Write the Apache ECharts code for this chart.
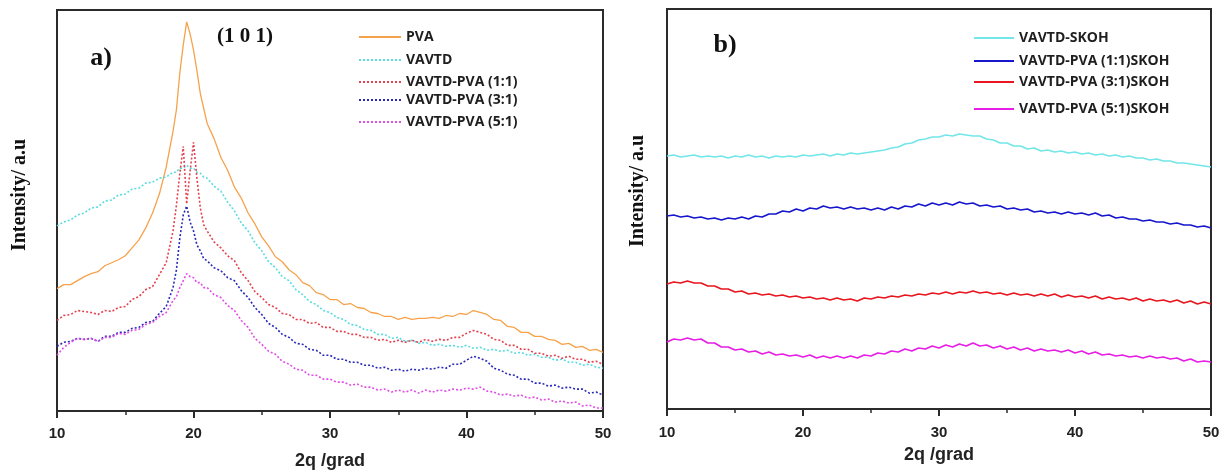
<!DOCTYPE html>
<html>
<head>
<meta charset="utf-8">
<script src="https://cdn.jsdelivr.net/npm/echarts@6/dist/echarts.min.js"></script>
<style>
  html, body { margin: 0; padding: 0; background: #fff; }
  #chart { width: 1232px; height: 475px; }
</style>
</head>
<body>
<div id="chart"></div>
<script>
// 2θ positions (degrees) for panel a), finer spacing around the (1 0 1) reflection
const thetaA = [
  10, 10.5, 11, 11.5, 12, 12.5, 13, 13.5, 14, 14.5, 15, 15.5, 16, 16.5, 17, 17.5, 18, 18.5,
  18.75, 19, 19.25, 19.5, 19.75, 20, 20.25, 20.5, 20.75, 21,
  21.5, 22, 22.5, 23, 23.5, 24, 24.5, 25, 25.5, 26, 26.5, 27, 27.5, 28, 28.5, 29, 29.5, 30,
  30.5, 31, 31.5, 32, 32.5, 33, 33.5, 34, 34.5, 35, 35.5, 36, 36.5, 37, 37.5, 38, 38.5, 39, 39.5, 40,
  40.5, 41, 41.5, 42, 42.5, 43, 43.5, 44, 44.5, 45, 45.5, 46, 46.5, 47, 47.5, 48, 48.5, 49, 49.5, 50
];

// Panel a) intensities (a.u., stacked offsets included)
const pva = [
  123, 127, 127, 131, 135, 138, 140, 146, 149, 152, 156, 164, 172, 184, 199, 218, 245, 281,
  303, 340, 368, 391, 379, 363, 342, 319, 304, 289,
  274, 255, 242, 225, 214, 199, 188, 175, 166, 155, 150, 142, 137, 129, 126, 119, 117, 112,
  112, 107, 108, 104, 103, 99, 98, 95, 95, 92, 94, 92, 93, 93, 94, 93, 96, 95, 98, 97,
  101, 99, 97, 92, 91, 85, 84, 79, 79, 75, 75, 72, 71, 67, 68, 64, 65, 61, 62, 59
];
const vavtd = [
  186, 190, 192, 197, 199, 204, 205, 211, 212, 217, 218, 223, 224, 229, 230, 234, 235, 240,
  240, 244, 244, 247, 244, 244, 240, 239, 235, 234,
  226, 221, 210, 201, 189, 181, 169, 161, 150, 144, 135, 131, 122, 117, 110, 107, 101, 99,
  94, 92, 87, 86, 82, 81, 77, 77, 73, 74, 70, 71, 68, 69, 66, 67, 65, 66, 64, 66,
  63, 64, 61, 62, 60, 61, 58, 59, 56, 57, 54, 54, 51, 52, 49, 49, 46, 47, 44, 43
];
const vavtdPva11 = [
  91, 96, 97, 101, 100, 99, 97, 101, 100, 104, 105, 112, 115, 122, 125, 137, 149, 181,
  207, 239, 266, 208, 241, 270, 234, 204, 187, 181,
  170, 164, 156, 151, 139, 131, 120, 114, 107, 104, 98, 97, 92, 92, 88, 89, 84, 84,
  80, 80, 77, 77, 74, 74, 71, 72, 69, 71, 69, 71, 69, 72, 70, 72, 71, 74, 74, 78,
  81, 79, 77, 72, 71, 66, 66, 62, 62, 58, 58, 55, 56, 53, 55, 52, 52, 49, 50, 47
];
const vavtdPva31 = [
  65, 69, 70, 73, 72, 73, 70, 75, 75, 79, 79, 83, 84, 89, 90, 98, 105, 124,
  142, 174, 197, 206, 190, 181, 167, 161, 153, 151,
  144, 141, 134, 131, 121, 114, 104, 97, 88, 84, 77, 74, 68, 67, 62, 61, 56, 56,
  52, 52, 49, 49, 46, 46, 43, 44, 41, 42, 40, 42, 41, 43, 42, 44, 43, 47, 47, 51,
  55, 53, 50, 43, 41, 37, 36, 32, 32, 28, 28, 25, 26, 23, 24, 22, 22, 18, 19, 16
];
const vavtdPva51 = [
  56, 64, 69, 73, 72, 73, 70, 74, 74, 78, 77, 81, 82, 87, 89, 95, 99, 111,
  115, 124, 131, 138, 135, 134, 129, 129, 124, 124,
  117, 114, 106, 101, 91, 84, 73, 67, 60, 57, 50, 47, 42, 41, 36, 36, 32, 32,
  29, 29, 26, 27, 24, 24, 21, 22, 19, 21, 19, 21, 18, 21, 19, 21, 20, 22, 21, 23,
  22, 24, 20, 19, 16, 17, 15, 16, 13, 14, 11, 12, 9, 10, 8, 9, 5, 6, 3, 3
];

// 2θ positions (degrees) for panel b)
const thetaB = [
  10, 10.5, 11, 11.5, 12, 12.5, 13, 13.5, 14, 14.5, 15, 15.5, 16, 16.5, 17, 17.5, 18, 18.5, 19, 19.5,
  20, 20.5, 21, 21.5, 22, 22.5, 23, 23.5, 24, 24.5, 25, 25.5, 26, 26.5, 27, 27.5, 28, 28.5, 29, 29.5,
  30, 30.5, 31, 31.5, 32, 32.5, 33, 33.5, 34, 34.5, 35, 35.5, 36, 36.5, 37, 37.5, 38, 38.5, 39, 39.5,
  40, 40.5, 41, 41.5, 42, 42.5, 43, 43.5, 44, 44.5, 45, 45.5, 46, 46.5, 47, 47.5, 48, 48.5, 49, 49.5,
  50
];

// Panel b) intensities (a.u., stacked offsets included)
const skoh = [
  253, 254, 252, 253, 254, 252, 253, 252, 253, 251, 253, 252, 254, 252, 253, 251, 253, 252, 253, 252,
  254, 253, 254, 255, 253, 255, 254, 256, 255, 256, 257, 258, 259, 261, 262, 265, 266, 269, 270, 272,
  272, 274, 273, 275, 274, 273, 273, 270, 269, 266, 266, 263, 263, 260, 261, 258, 259, 257, 258, 256,
  257, 255, 256, 254, 255, 253, 254, 252, 253, 251, 251, 249, 250, 248, 248, 246, 246, 245, 244, 243,
  242
];
const skohPva11 = [
  193, 194, 192, 193, 191, 192, 190, 191, 189, 191, 190, 192, 190, 193, 192, 195, 195, 198, 197, 200,
  198, 201, 200, 203, 201, 202, 200, 202, 200, 201, 199, 201, 199, 202, 200, 203, 202, 205, 203, 206,
  204, 206, 204, 207, 205, 206, 203, 204, 202, 203, 200, 201, 199, 200, 197, 198, 196, 197, 195, 197,
  195, 196, 194, 196, 193, 194, 191, 192, 190, 190, 188, 189, 187, 187, 185, 186, 184, 184, 182, 183,
  181
];
const skohPva31 = [
  125, 127, 126, 128, 126, 126, 123, 123, 120, 120, 117, 118, 115, 116, 114, 115, 113, 114, 112, 113,
  111, 112, 110, 111, 109, 111, 109, 110, 108, 111, 110, 112, 111, 113, 112, 114, 113, 115, 114, 116,
  115, 117, 115, 117, 116, 118, 116, 117, 115, 116, 114, 116, 114, 115, 113, 115, 113, 115, 112, 114,
  112, 113, 111, 113, 110, 112, 110, 111, 109, 111, 108, 110, 108, 109, 107, 109, 106, 108, 105, 107,
  105
];
const skohPva51 = [
  67, 70, 69, 71, 69, 70, 66, 66, 62, 62, 59, 60, 57, 58, 55, 57, 54, 55, 53, 54,
  52, 54, 51, 53, 51, 53, 51, 53, 51, 54, 53, 56, 55, 58, 57, 60, 58, 61, 60, 63,
  61, 64, 62, 65, 63, 66, 63, 64, 61, 63, 60, 62, 59, 61, 58, 60, 58, 59, 57, 59,
  56, 58, 55, 57, 54, 55, 53, 54, 52, 53, 51, 53, 51, 52, 50, 51, 48, 50, 47, 48,
  47
];

const namesA = ['PVA', 'VAVTD', 'VAVTD-PVA (1:1)', 'VAVTD-PVA (3:1)', 'VAVTD-PVA (5:1)'];
const namesB = ['VAVTD-SKOH', 'VAVTD-PVA (1:1)SKOH', 'VAVTD-PVA (3:1)SKOH', 'VAVTD-PVA (5:1)SKOH'];
const valuesA = [pva, vavtd, vavtdPva11, vavtdPva31, vavtdPva51];
const valuesB = [skoh, skohPva11, skohPva31, skohPva51];
const colorsA = ['#F6A24A', '#58DCE0', '#E2424E', '#2A2ABA', '#E04EE6'];
const colorsB = ['#72E6E8', '#1616CC', '#E8161E', '#E61EE6'];

const zip = (xs, ys) => xs.map((x, i) => [x, ys[i]]);

const frameColor = '#2b2b2b';
const tickFont = { fontFamily: 'Liberation Sans', fontWeight: 'bold', fontSize: 15, color: '#222' };

function xAxisFor(gridIndex, labelMargin, nameGap) {
  return {
    type: 'value', gridIndex, min: 10, max: 50, interval: 10,
    name: '2q /grad', nameLocation: 'middle', nameGap,
    nameTextStyle: { fontFamily: 'Liberation Sans', fontWeight: 'bold', fontSize: 18, color: '#222' },
    axisLine: { show: true, onZero: false, lineStyle: { color: frameColor, width: 2 } },
    axisTick: { show: true, inside: false, length: 7, lineStyle: { color: frameColor, width: 2 } },
    minorTick: { show: true, splitNumber: 2, length: 4, lineStyle: { color: frameColor, width: 1.5 } },
    axisLabel: Object.assign({ margin: labelMargin }, tickFont),
    splitLine: { show: false }
  };
}
function yAxisFor(gridIndex, max) {
  return {
    type: 'value', gridIndex, min: 0, max,
    axisLine: { show: true, lineStyle: { color: frameColor, width: 2 } },
    axisTick: { show: false }, axisLabel: { show: false }, splitLine: { show: false }
  };
}

const series = [];
namesA.forEach((name, i) => {
  series.push({
    name, type: 'line', xAxisIndex: 0, yAxisIndex: 0, symbol: 'none', smooth: false,
    data: zip(thetaA, valuesA[i]),
    lineStyle: i === 0 ? { color: colorsA[i], width: 1.3, type: 'solid' }
                       : { color: colorsA[i], width: 1.6, type: [2, 2] },
    itemStyle: { color: colorsA[i] }
  });
});
namesB.forEach((name, i) => {
  series.push({
    name, type: 'line', xAxisIndex: 1, yAxisIndex: 1, symbol: 'none', smooth: false,
    data: zip(thetaB, valuesB[i]),
    lineStyle: { color: colorsB[i], width: 1.7 },
    itemStyle: { color: colorsB[i] }
  });
});

// one legend entry per row so each line sits where it belongs; line sample only, no marker
const legendText = { fontFamily: 'Open Sans', fontWeight: 'bold', fontSize: 14, color: '#1e1e1e' };
const rowsA = [37, 60, 82, 100, 122];
const rowsB = [38, 61, 82, 109];
const legends = [];
namesA.forEach((name, i) => legends.push({
  data: [name], left: 358, top: rowsA[i] - 7, itemWidth: 42, itemHeight: 14,
  selectedMode: false, textStyle: legendText, padding: 0, itemStyle: { opacity: 0 }
}));
namesB.forEach((name, i) => legends.push({
  data: [name], left: 973, top: rowsB[i] - 7, itemWidth: 40, itemHeight: 14,
  selectedMode: false, textStyle: legendText, padding: 0, itemStyle: { opacity: 0 }
}));

const serifBold = 'bold {s}px "Liberation Serif", "Times New Roman", serif';
const font = s => serifBold.replace('{s}', s);

const option = {
  backgroundColor: '#fff',
  animation: false,
  grid: [
    { left: 57, right: 629, top: 10, bottom: 62, show: true, borderColor: frameColor, borderWidth: 2, backgroundColor: 'transparent' },
    { left: 667, right: 21, top: 9, bottom: 66, show: true, borderColor: frameColor, borderWidth: 2, backgroundColor: 'transparent' }
  ],
  xAxis: [xAxisFor(0, 15, 41), xAxisFor(1, 16, 37)],
  yAxis: [yAxisFor(0, 403), yAxisFor(1, 400)],
  legend: legends,
  series,
  graphic: [
    { type: 'text', x: 20, y: 195, rotation: Math.PI / 2,
      style: { text: 'Intensity/ a.u', font: font(20), fill: '#111', textAlign: 'center', textVerticalAlign: 'middle' } },
    { type: 'text', x: 638, y: 191, rotation: Math.PI / 2,
      style: { text: 'Intensity/ a.u', font: font(20), fill: '#111', textAlign: 'center', textVerticalAlign: 'middle' } },
    { type: 'text', x: 101, y: 58,
      style: { text: 'a)', font: font(26), fill: '#111', textAlign: 'center', textVerticalAlign: 'middle' } },
    { type: 'text', x: 725, y: 45,
      style: { text: 'b)', font: font(26), fill: '#111', textAlign: 'center', textVerticalAlign: 'middle' } },
    { type: 'text', x: 245, y: 37,
      style: { text: '(1 0 1)', font: font(21), fill: '#111', textAlign: 'center', textVerticalAlign: 'middle' } }
  ]
};

const chart = echarts.init(document.getElementById('chart'), null, { renderer: 'canvas' });
chart.setOption(option);
</script>
</body>
</html>
